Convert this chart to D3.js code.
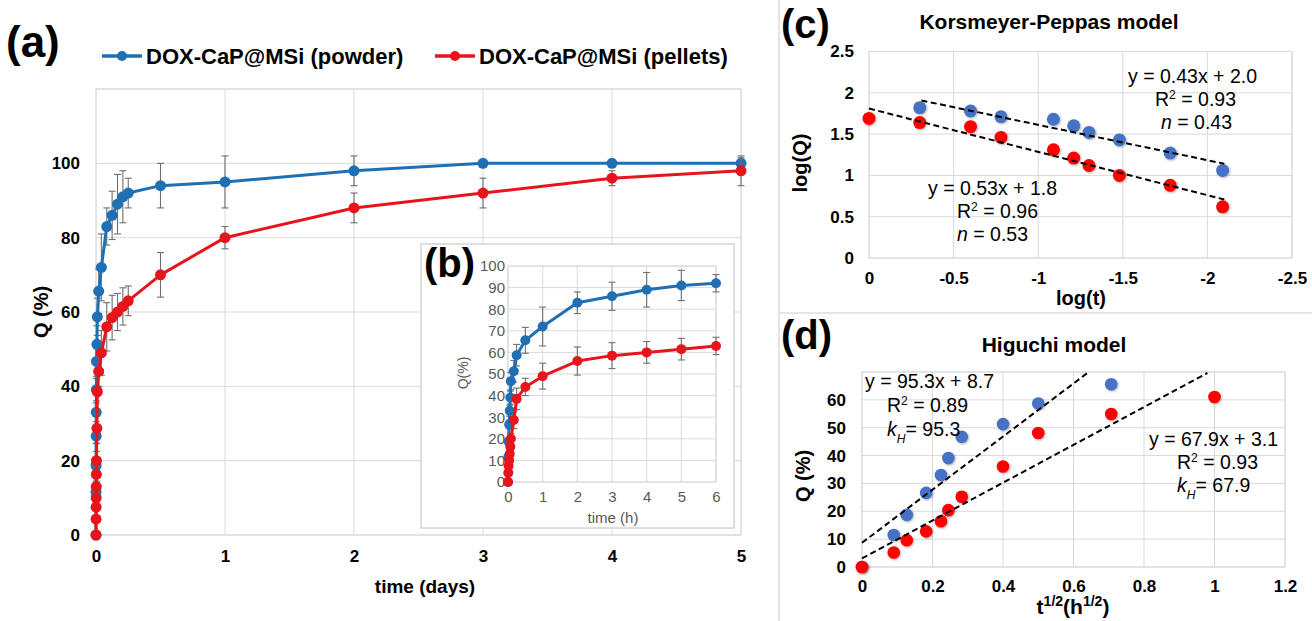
<!DOCTYPE html>
<html>
<head>
<meta charset="utf-8">
<title>DOX-CaP@MSi release kinetics</title>
<script src="https://cdn.jsdelivr.net/npm/d3@7"></script>
<style>
  body { margin: 0; background: #fff; }
</style>
</head>
<body>
<div id="chart"></div>
<script>
// ---- release profile, time in hours (panels a and b)
var timeH      = [0, 0.008, 0.017, 0.033, 0.05, 0.067, 0.083, 0.167, 0.25, 0.5, 1, 2, 3, 4, 5, 6, 12, 24, 48, 72, 96, 120];
var qPowder    = [0, 11.5, 18.7, 26.6, 33, 39.1, 46.7, 51.3, 58.7, 65.6, 72, 83, 86, 89, 91, 92, 94, 95, 98, 100, 100, 100];
var errPowder  = [0, 1, 1.5, 2, 2.5, 3, 4, 5, 5, 6, 9, 5, 6.5, 8, 7, 4, 6, 7, 4, 0.5, 0.5, 1.5];
var qPellets   = [0, 4.3, 7.5, 10, 13, 16.3, 20, 28.7, 38.5, 44, 49, 56, 58.5, 60, 61.5, 63, 70, 80, 88, 92, 96, 98];
var errPellets = [0, 0.5, 1, 1, 1.5, 2, 2.5, 4, 5, 4, 6, 6.5, 6, 5, 5, 4, 6, 3, 4, 4, 2, 4];

var seriesNames = ["DOX-CaP@MSi (powder)", "DOX-CaP@MSi (pellets)"];

// ---- Korsmeyer-Peppas (panel c)
var kpLogTPowder  = [-0.3, -0.6, -0.78, -1.09, -1.21, -1.3, -1.48, -1.78, -2.09];
var kpLogQPowder  = [1.82, 1.78, 1.71, 1.68, 1.60, 1.52, 1.43, 1.27, 1.06];
var kpLogTPellets = [0, -0.3, -0.6, -0.78, -1.09, -1.21, -1.3, -1.48, -1.78, -2.09];
var kpLogQPellets = [1.69, 1.64, 1.59, 1.46, 1.31, 1.21, 1.12, 1.00, 0.88, 0.62];
// slope, intercept, x from, x to
var kpFitPowder  = [0.428, 2.04, -0.31, -2.1];
var kpFitPellets = [0.525, 1.81, 0, -2.1];

// ---- Higuchi (panel d)
var hgXPowder  = [0, 0.09, 0.127, 0.182, 0.224, 0.245, 0.283, 0.4, 0.5, 0.707];
var hgQPowder  = [0, 11.5, 18.7, 26.6, 33, 39.1, 46.7, 51.3, 58.7, 65.6];
var hgXPellets = [0, 0.09, 0.127, 0.182, 0.224, 0.245, 0.283, 0.4, 0.5, 0.707, 1];
var hgQPellets = [0, 5.2, 9.6, 12.8, 16.4, 20.4, 25.2, 36.1, 48.1, 54.9, 61];
var hgFitPowder  = [95.3, 8.7, 0, 0.643];
var hgFitPellets = [67.9, 3.1, 0, 0.98];

// tick values
var aXTicks = [0, 1, 2, 3, 4, 5];
var aYTicks = [0, 20, 40, 60, 80, 100];
var bXTicks = [0, 1, 2, 3, 4, 5, 6];
var bYTicks = [0, 10, 20, 30, 40, 50, 60, 70, 80, 90, 100];
var cXTicks = [0, -0.5, -1, -1.5, -2, -2.5];
var cYTicks = [0, 0.5, 1, 1.5, 2, 2.5];
var dXTicks = [0, 0.2, 0.4, 0.6, 0.8, 1, 1.2];
var dYTicks = [0, 10, 20, 30, 40, 50, 60];

var FONT = "'Liberation Sans', Arial, Helvetica, sans-serif";
var GRID = "#d9d9d9";
var BLUE = "#1f6fb4", RED = "#e8141b";
var BLUE2 = "#4472c4", RED2 = "#ff0000";

var svg = d3.select("#chart").append("svg")
  .attr("width", 1312).attr("height", 621)
  .style("font-family", FONT);

var defs = svg.append("defs");
defs.append("filter").attr("id", "shadow")
  .attr("x", "-50%").attr("y", "-50%").attr("width", "200%").attr("height", "200%")
  .append("feDropShadow")
  .attr("dx", 1).attr("dy", 1).attr("stdDeviation", 1)
  .attr("flood-color", "#000").attr("flood-opacity", 0.3);

// separators between panels
svg.append("line").attr("x1", 779).attr("y1", 0).attr("x2", 779).attr("y2", 621)
  .attr("stroke", "#dcdcdc").attr("stroke-width", 1.5);
svg.append("line").attr("x1", 779).attr("y1", 313).attr("x2", 1312).attr("y2", 313)
  .attr("stroke", "#dcdcdc").attr("stroke-width", 1.5);

function gridBox(g, xs, ys, xv, yv) {
  g.selectAll(null).data(xv).enter().append("line")
    .attr("x1", function(d) { return xs(d); }).attr("x2", function(d) { return xs(d); })
    .attr("y1", ys.range()[0]).attr("y2", ys.range()[1])
    .attr("stroke", GRID).attr("stroke-width", 1);
  g.selectAll(null).data(yv).enter().append("line")
    .attr("y1", function(d) { return ys(d); }).attr("y2", function(d) { return ys(d); })
    .attr("x1", xs.range()[0]).attr("x2", xs.range()[1])
    .attr("stroke", GRID).attr("stroke-width", 1);
  var x0 = Math.min(xs.range()[0], xs.range()[1]), x1 = Math.max(xs.range()[0], xs.range()[1]);
  var y0 = Math.min(ys.range()[0], ys.range()[1]), y1 = Math.max(ys.range()[0], ys.range()[1]);
  g.append("rect").attr("x", x0).attr("y", y0).attr("width", x1 - x0).attr("height", y1 - y0)
    .attr("fill", "none").attr("stroke", GRID).attr("stroke-width", 1);
}

function styleAxis(g, size, weight, color) {
  g.select(".domain").remove();
  g.attr("font-family", null).attr("font-size", null);
  g.selectAll("text").style("font-family", FONT).attr("font-size", size)
    .attr("font-weight", weight).attr("fill", color);
}

function label(txt, x, y, size, weight, anchor, rot, color) {
  var t = svg.append("text").attr("font-size", size).attr("font-weight", weight || "normal")
    .attr("text-anchor", anchor || "middle").attr("fill", color || "#000")
    .attr("transform", "translate(" + x + "," + y + ")" + (rot ? " rotate(" + rot + ")" : ""));
  t.text(txt);
  return t;
}

function drawRelease(g, data, xs, ys, vKey, eKey, color, r, lw) {
  var withErr = data.filter(function(d) { return d[eKey] > 0; });
  var eb = g.append("g").attr("stroke", "#6e6e6e").attr("stroke-width", 1.1);
  eb.selectAll(null).data(withErr).enter().append("line")
    .attr("x1", function(d) { return xs(d.x); }).attr("x2", function(d) { return xs(d.x); })
    .attr("y1", function(d) { return ys(d[vKey] - d[eKey]); })
    .attr("y2", function(d) { return ys(d[vKey] + d[eKey]); });
  [-1, 1].forEach(function(s) {
    eb.selectAll(null).data(withErr).enter().append("line")
      .attr("x1", function(d) { return xs(d.x) - 3.5; }).attr("x2", function(d) { return xs(d.x) + 3.5; })
      .attr("y1", function(d) { return ys(d[vKey] + s * d[eKey]); })
      .attr("y2", function(d) { return ys(d[vKey] + s * d[eKey]); });
  });
  g.append("path").datum(data)
    .attr("d", d3.line().x(function(d) { return xs(d.x); }).y(function(d) { return ys(d[vKey]); }))
    .attr("fill", "none").attr("stroke", color).attr("stroke-width", lw).attr("stroke-linejoin", "round");
  g.selectAll(null).data(data).enter().append("circle")
    .attr("cx", function(d) { return xs(d.x); }).attr("cy", function(d) { return ys(d[vKey]); })
    .attr("r", r).attr("fill", color);
}

// ================= panel (a)
var rowsDays = timeH.map(function(t, i) {
  return { x: t / 24, p: qPowder[i], pe: errPowder[i], l: qPellets[i], le: errPellets[i] };
});
var ax = d3.scaleLinear().domain([0, 5]).range([96, 741]);
var ay = d3.scaleLinear().domain([0, 120]).range([535, 89]);
var ga = svg.append("g");
gridBox(ga, ax, ay, aXTicks, [0, 20, 40, 60, 80, 100, 120]);
ga.append("g").attr("transform", "translate(0,535)")
  .call(d3.axisBottom(ax).tickValues(aXTicks).tickSize(0).tickPadding(15).tickFormat(d3.format("d")))
  .call(styleAxis, 17, "bold", "#000");
ga.append("g").attr("transform", "translate(96,0)")
  .call(d3.axisLeft(ay).tickValues(aYTicks).tickSize(0).tickPadding(16))
  .call(styleAxis, 17, "bold", "#000");
drawRelease(ga, rowsDays, ax, ay, "p", "pe", BLUE, 5.5, 3);
drawRelease(ga, rowsDays, ax, ay, "l", "le", RED, 5.5, 3);

label("(a)", 6, 57, 44, "bold", "start");
label("Q (%)", 48, 312, 20, "bold", "middle", -90);
label("time (days)", 425, 593, 19, "bold", "middle");

// legend
[[BLUE, 102, 142, 146, seriesNames[0]], [RED, 435, 475, 479, seriesNames[1]]].forEach(function(l) {
  svg.append("line").attr("x1", l[1]).attr("x2", l[2]).attr("y1", 56).attr("y2", 56)
    .attr("stroke", l[0]).attr("stroke-width", 3.5);
  svg.append("circle").attr("cx", (l[1] + l[2]) / 2).attr("cy", 56).attr("r", 5).attr("fill", l[0]);
  label(l[4], l[3], 64, 22, "bold", "start");
});

// ================= inset (b)
svg.append("rect").attr("x", 421).attr("y", 244).attr("width", 313).attr("height", 284)
  .attr("fill", "#fff").attr("stroke", "#d4d4d4").attr("stroke-width", 1.5);
var rowsH = timeH.map(function(t, i) {
  return { x: t, p: qPowder[i], pe: errPowder[i], l: qPellets[i], le: errPellets[i] };
}).filter(function(d) { return d.x <= 6; });
var bx = d3.scaleLinear().domain([0, 6]).range([508, 716]);
var by = d3.scaleLinear().domain([0, 100]).range([482, 266]);
var gb = svg.append("g");
gridBox(gb, bx, by, bXTicks, bYTicks);
gb.append("g").attr("transform", "translate(0,482)")
  .call(d3.axisBottom(bx).tickValues(bXTicks).tickSize(0).tickPadding(9).tickFormat(d3.format("d")))
  .call(styleAxis, 15, "normal", "#595959");
gb.append("g").attr("transform", "translate(508,0)")
  .call(d3.axisLeft(by).tickValues(bYTicks).tickSize(0).tickPadding(3))
  .call(styleAxis, 15, "normal", "#595959");
drawRelease(gb, rowsH, bx, by, "p", "pe", BLUE, 5, 3);
drawRelease(gb, rowsH, bx, by, "l", "le", RED, 5, 3);
label("(b)", 424, 277, 40, "bold", "start");
label("Q(%)", 468, 373, 14, "normal", "middle", -90, "#595959");
label("time (h)", 613, 523, 15, "normal", "middle", null, "#595959");

// ================= panel (c)
var cx = d3.scaleLinear().domain([0, -2.5]).range([869, 1292]);
var cy = d3.scaleLinear().domain([0, 2.5]).range([258, 51.5]);
var gc = svg.append("g");
gridBox(gc, cx, cy, cXTicks, cYTicks);
gc.append("g").attr("transform", "translate(0,258)")
  .call(d3.axisBottom(cx).tickValues(cXTicks).tickSize(0).tickPadding(14).tickFormat(function(d) { return String(d); }))
  .call(styleAxis, 17, "bold", "#000");
gc.append("g").attr("transform", "translate(869,0)")
  .call(d3.axisLeft(cy).tickValues(cYTicks).tickSize(0).tickPadding(15).tickFormat(function(d) { return String(d); }))
  .call(styleAxis, 17, "bold", "#000");

function fitLine(g, xs, ys, f) {
  g.append("line")
    .attr("x1", xs(f[2])).attr("y1", ys(f[0] * f[2] + f[1]))
    .attr("x2", xs(f[3])).attr("y2", ys(f[0] * f[3] + f[1]))
    .attr("stroke", "#000").attr("stroke-width", 2).attr("stroke-dasharray", "6,3.5");
}
function dots(g, xs, ys, xv, yv, color, r) {
  g.selectAll(null).data(xv).enter().append("circle")
    .attr("cx", function(d) { return xs(d); })
    .attr("cy", function(d, i) { return ys(yv[i]); })
    .attr("r", r).attr("fill", color).attr("filter", "url(#shadow)");
}
dots(gc, cx, cy, kpLogTPowder, kpLogQPowder, BLUE2, 6.5);
dots(gc, cx, cy, kpLogTPellets, kpLogQPellets, RED2, 6.5);
fitLine(gc, cx, cy, kpFitPowder);
fitLine(gc, cx, cy, kpFitPellets);

label("(c)", 781, 38, 40, "bold", "start");
label("Korsmeyer-Peppas model", 1049, 29, 21, "bold", "middle");
label("log(Q)", 807, 163, 20, "bold", "middle", -90);
label("log(t)", 1081, 305, 20, "bold", "middle");

function eqBlock(lines, x, y, size, anchor) {
  lines.forEach(function(parts, i) {
    var t = svg.append("text").attr("x", x[i]).attr("y", y[i]).attr("font-size", size)
      .attr("text-anchor", anchor);
    parts.forEach(function(p) {
      var s = t.append("tspan").text(p.t);
      if (p.sup) s.attr("font-size", size * 0.62).attr("baseline-shift", "super");
      if (p.sub) s.attr("font-size", size * 0.62).attr("baseline-shift", "sub").attr("font-style", "italic");
      if (p.it) s.attr("font-style", "italic");
    });
  });
}
eqBlock([[{ t: "y = 0.43x + 2.0" }], [{ t: "R" }, { t: "2", sup: 1 }, { t: " = 0.93" }], [{ t: "n", it: 1 }, { t: " = 0.43" }]],
  [1128, 1155, 1161], [83, 106, 129], 19.5, "start");
eqBlock([[{ t: "y = 0.53x + 1.8" }], [{ t: "R" }, { t: "2", sup: 1 }, { t: " = 0.96" }], [{ t: "n", it: 1 }, { t: " = 0.53" }]],
  [928, 957, 957], [195, 218, 241], 19.5, "start");

// ================= panel (d)
var dx = d3.scaleLinear().domain([0, 1.2]).range([862, 1285]);
var dy = d3.scaleLinear().domain([0, 70]).range([567, 372]);
var gd = svg.append("g");
gridBox(gd, dx, dy, dXTicks, [0, 10, 20, 30, 40, 50, 60, 70]);
gd.append("g").attr("transform", "translate(0,567)")
  .call(d3.axisBottom(dx).tickValues(dXTicks).tickSize(0).tickPadding(13).tickFormat(function(d) { return String(d); }))
  .call(styleAxis, 17, "bold", "#000");
gd.append("g").attr("transform", "translate(862,0)")
  .call(d3.axisLeft(dy).tickValues(dYTicks).tickSize(0).tickPadding(16))
  .call(styleAxis, 17, "bold", "#000");
dots(gd, dx, dy, hgXPowder, hgQPowder, BLUE2, 6.3);
dots(gd, dx, dy, hgXPellets, hgQPellets, RED2, 6.3);
fitLine(gd, dx, dy, hgFitPowder);
fitLine(gd, dx, dy, hgFitPellets);

label("(d)", 781, 349, 40, "bold", "start");
label("Higuchi model", 1054, 352, 21, "bold", "middle");
label("Q (%)", 810, 476, 20, "bold", "middle", -90);
var xl = svg.append("text").attr("x", 1073).attr("y", 614).attr("font-size", 21)
  .attr("font-weight", "bold").attr("text-anchor", "middle");
xl.append("tspan").text("t");
xl.append("tspan").text("1/2").attr("font-size", 14).attr("baseline-shift", "super");
xl.append("tspan").text("(h");
xl.append("tspan").text("1/2").attr("font-size", 14).attr("baseline-shift", "super");
xl.append("tspan").text(")");

eqBlock([[{ t: "y = 95.3x + 8.7" }], [{ t: "R" }, { t: "2", sup: 1 }, { t: " = 0.89" }], [{ t: "k", it: 1 }, { t: "H", sub: 1 }, { t: "= 95.3" }]],
  [865, 887, 887], [388, 412, 436], 19.5, "start");
eqBlock([[{ t: "y = 67.9x + 3.1" }], [{ t: "R" }, { t: "2", sup: 1 }, { t: " = 0.93" }], [{ t: "k", it: 1 }, { t: "H", sub: 1 }, { t: "= 67.9" }]],
  [1149, 1177, 1177], [446, 469, 492], 19.5, "start");
</script>
</body>
</html>
